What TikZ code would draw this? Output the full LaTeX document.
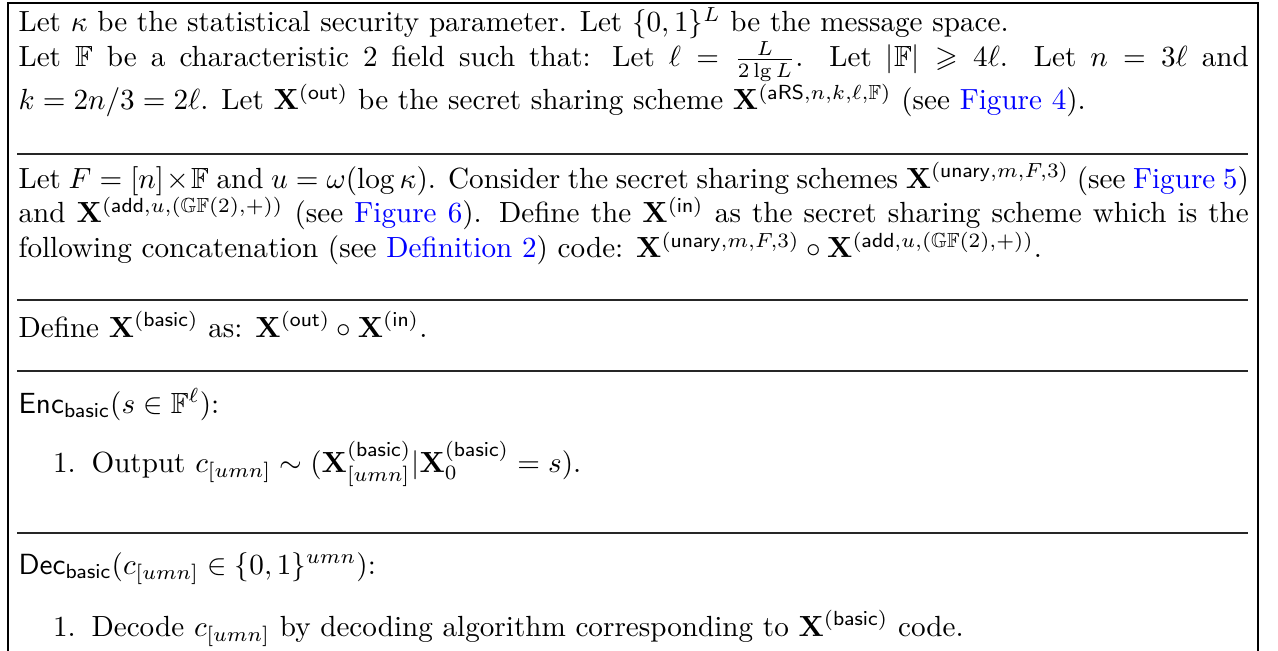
\documentclass[tikz,border=0pt]{standalone}
\usepackage{amsmath, amssymb}
\usepackage{xcolor}
\usepackage{tikz}
\usetikzlibrary{positioning, calc}
\newcommand{\XX}[1]{\mathbf{X}^{(#1)}}
\newcommand{\figref}[1]{\textcolor{blue}{#1}}

\begin{document}
\begin{tikzpicture}[x=0.343pt, y=-0.343pt,
        para/.style={anchor=base west, inner sep=0pt, text width=422pt, align=justify, font=\normalsize},
        itemtext/.style={anchor=base west, inner sep=0pt, font=\normalsize},
        itemnum/.style={left=5pt of #1, anchor=base east, inner sep=0pt, font=\normalsize},
        sep/.style={draw=black!85, line width=0.45pt},
        frame/.style={draw=black, line width=0.5pt}]

        \useasboundingbox (0,0) rectangle (1278,651);
        \clip (0,0) rectangle (1278,651);

        % Marco exterior
        \draw [frame] (8,3) rectangle (1258,720);

        % Parametros del esquema
        \node [para] (params) at (18,32) {Let $\kappa$ be the statistical security parameter. Let $\{0,1\}^L$ be the message space.\\
            Let $\mathbb{F}$ be a characteristic 2 field such that: Let $\ell=\frac{L}{2\lg L}$. Let $|\mathbb{F}|\geqslant 4\ell$. Let $n=3\ell$ and\linebreak
            $k=2n/3=2\ell$. Let $\XX{\mathsf{out}}$ be the secret sharing scheme $\XX{\mathsf{aRS},n,k,\ell,\mathbb{F}}$ (see \figref{Figure 4}).};
        \draw [sep] (17,154) -- (1248,154);

        % Codigo interior
        \node [para] (inner) at (18,188) {Let $F=[n]\times\mathbb{F}$ and $u=\omega(\log\kappa)$. Consider the secret sharing schemes $\XX{\mathsf{unary},m,F,3}$ (see \figref{Figure 5})\linebreak
            and $\XX{\mathsf{add},u,(\mathbb{GF}(2),+)}$ (see \figref{Figure 6}). Define the $\XX{\mathsf{in}}$ as the secret sharing scheme which is the\linebreak
            following concatenation (see \figref{Definition 2}) code: $\XX{\mathsf{unary},m,F,3}\circ\XX{\mathsf{add},u,(\mathbb{GF}(2),+)}$.};
        \draw [sep] (17,300) -- (1248,300);

        % Concatenacion
        \node [para] (basic) at (18,337) {Define $\XX{\mathsf{basic}}$ as: $\XX{\mathsf{out}}\circ\XX{\mathsf{in}}$.};
        \draw [sep] (17,371) -- (1248,371);

        % Codificador
        \node [para] (enc) at (18,413) {$\mathsf{Enc}_{\mathsf{basic}}(s\in\mathbb{F}^{\ell})$:};
        \node [itemtext] (encstep) at (91,472) {Output $c_{[umn]}\sim(\mathbf{X}^{(\mathsf{basic})}_{[umn]}|\mathbf{X}^{(\mathsf{basic})}_0=s)$.};
        \node [itemnum=encstep.base west] (encnum) {1.};
        \draw [sep] (17,533) -- (1248,533);

        % Decodificador
        \node [para] (dec) at (18,574) {$\mathsf{Dec}_{\mathsf{basic}}(c_{[umn]}\in\{0,1\}^{umn})$:};
        \node [itemtext] (decstep) at (91,636) {Decode $c_{[umn]}$ by decoding algorithm corresponding to $\XX{\mathsf{basic}}$ code.};
        \node [itemnum=decstep.base west] (decnum) {1.};
    \end{tikzpicture}
\end{document}
